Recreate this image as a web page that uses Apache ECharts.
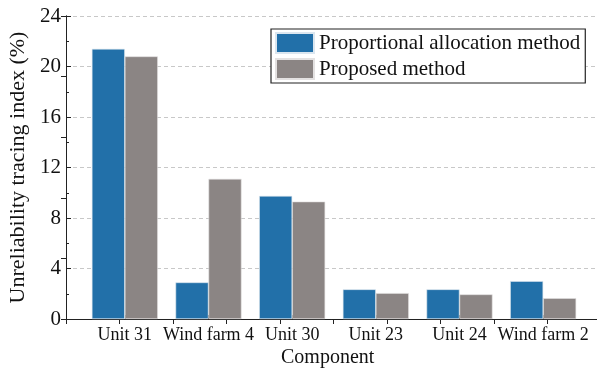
<!DOCTYPE html>
<html>
<head>
<meta charset="utf-8">
<script src="https://cdn.jsdelivr.net/npm/echarts@6/dist/echarts.min.js"></script>
<style>html,body{margin:0;padding:0;background:#fff;}#c{width:597px;height:370px;}</style>
</head>
<body>
<div id="c"></div>
<script>
var categories = ['Unit 31', 'Wind farm 4', 'Unit 30', 'Unit 23', 'Unit 24', 'Wind farm 2'];
var proportional = [21.4, 2.9, 9.75, 2.35, 2.35, 3.0];
var proposed = [20.8, 11.1, 9.3, 2.05, 1.95, 1.65];
var seriesNames = ['Proportional allocation method', 'Proposed method'];
var yTicks = [0, 4, 8, 12, 16, 20, 24];

var FONT = '"Liberation Serif", "Times New Roman", serif';
var chart = echarts.init(document.getElementById('c'), null, {renderer: 'canvas'});
chart.setOption({
  animation: false,
  backgroundColor: '#fff',
  grid: [
    {left: 66, top: 16, right: -4, bottom: 51, containLabel: false, outerBoundsMode: 'none'},
    {left: 83, top: 16, width: 502, bottom: 51, containLabel: false, outerBoundsMode: 'none'}
  ],
  legend: {
    orient: 'vertical', left: 271, top: 29,
    itemWidth: 38, itemHeight: 20, itemGap: 4,
    padding: [3, 5, 3, 4],
    backgroundColor: '#fff', borderColor: '#222', borderWidth: 1.2,
    textStyle: {fontFamily: FONT, fontSize: 21, color: '#111'},
    icon: 'rect',
    data: seriesNames
  },
  xAxis: [
    {gridIndex: 0, type: 'value', min: 0, max: 10, position: 'bottom',
     axisLine: {show: true, lineStyle: {color: '#222', width: 1}},
     axisTick: {show: false}, axisLabel: {show: false}, splitLine: {show: false}},
    {gridIndex: 0, type: 'value', min: 0, max: 10, interval: 1, position: 'top',
     axisLine: {show: true, lineStyle: {color: '#222', width: 1}},
     axisTick: {show: true, inside: true, length: 5, lineStyle: {color: '#222'}},
     axisLabel: {show: false}, splitLine: {show: false}},
    {gridIndex: 1, type: 'category', data: categories, position: 'bottom',
     axisLine: {show: false},
     axisTick: {show: true, inside: true, alignWithLabel: true, length: 4, interval: 0, lineStyle: {color: '#222'}},
     axisLabel: {fontFamily: FONT, fontSize: 18, color: '#111', margin: 7, interval: 0},
     splitLine: {show: false}}
  ],
  yAxis: [
    {gridIndex: 0, type: 'value', min: 0, max: 24, interval: 4,
     name: 'Unreliability tracing index (%)', nameLocation: 'middle', nameGap: 37,
     nameTextStyle: {fontFamily: FONT, fontSize: 22, color: '#111'},
     axisLine: {show: true, lineStyle: {color: '#222', width: 1}},
     axisTick: {show: true, inside: true, length: 5, lineStyle: {color: '#222'}},
     axisLabel: {fontFamily: FONT, fontSize: 21, color: '#111', margin: 5},
     splitLine: {show: true, lineStyle: {color: '#c8c8c8', type: [4, 3], width: 1}}},
    {gridIndex: 0, type: 'value', min: 0, max: 5, interval: 1, position: 'right',
     axisLine: {show: true, lineStyle: {color: '#222'}},
     axisTick: {show: true, inside: true, length: 5, lineStyle: {color: '#222'}},
     axisLabel: {show: false}, splitLine: {show: false}},
    {gridIndex: 1, type: 'value', min: 0, max: 24, show: false, splitLine: {show: false}},
    {gridIndex: 0, type: 'value', min: 0, max: 24, interval: 2, position: 'left',
     axisLine: {show: false},
     axisTick: {show: true, inside: true, length: 3, lineStyle: {color: '#222'}},
     axisLabel: {show: false}, splitLine: {show: false}}
  ],
  graphic: [
    {type: 'text', left: 281, top: 348,
     style: {text: 'Component', font: '20px ' + FONT, fill: '#111'}}
  ],
  series: [
    {name: seriesNames[0], type: 'bar', xAxisIndex: 2, yAxisIndex: 2,
     data: proportional, barWidth: 33, barGap: '0%',
     itemStyle: {color: '#2270a9', borderColor: '#dbe6ef', borderWidth: 0.6}},
    {name: seriesNames[1], type: 'bar', xAxisIndex: 2, yAxisIndex: 2,
     data: proposed, barWidth: 33, barGap: '0%',
     itemStyle: {color: '#8b8584', borderColor: '#e3e1e1', borderWidth: 0.6}}
  ]
});
</script>
</body>
</html>
